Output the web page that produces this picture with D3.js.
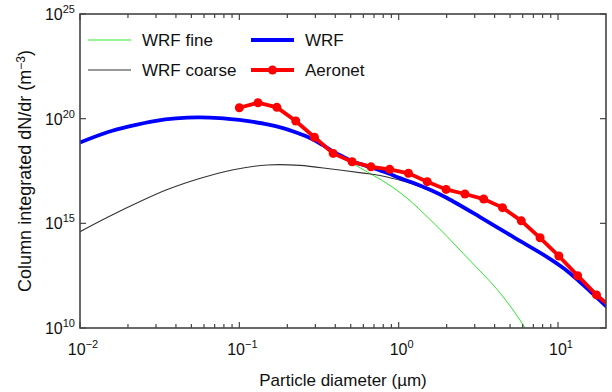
<!DOCTYPE html>
<html>
<head>
<meta charset="utf-8">
<script src="https://cdn.jsdelivr.net/npm/d3@7"></script>
<style>
  body { margin: 0; background: #fff; }
  svg text { font-family: "Liberation Sans", Arial, sans-serif; fill: #111; }
</style>
</head>
<body>
<svg id="graph" width="612" height="392"></svg>
<script>
// diametres (µm) et log10 des concentrations
const wrfD = [0.01, 0.015, 0.02, 0.03, 0.04, 0.055, 0.075, 0.1, 0.117, 0.15, 0.188, 0.23, 0.278, 0.33, 0.388, 0.45, 0.518, 0.6, 0.69, 0.85, 1.02, 1.23, 1.6, 2.01, 3.24, 5.23, 8.55, 11, 13.8, 17, 20.3];
const wrfLog = [18.86, 19.36, 19.62, 19.90, 20.01, 20.06, 20.03, 19.94, 19.87, 19.73, 19.55, 19.33, 19.08, 18.76, 18.42, 18.17, 17.94, 17.79, 17.64, 17.40, 17.16, 16.94, 16.58, 16.21, 15.30, 14.35, 13.39, 12.82, 12.18, 11.55, 11.0];

const fineD = [0.01, 0.015, 0.02, 0.03, 0.04, 0.055, 0.075, 0.1, 0.117, 0.15, 0.188, 0.23, 0.278, 0.321, 0.388, 0.45, 0.53, 0.634, 0.846, 1.129, 1.574, 2.013, 2.535, 3.243, 4.15, 5.225, 6.21, 7.18];
const fineLog = [18.85, 19.35, 19.61, 19.89, 20.00, 20.04, 20.01, 19.92, 19.84, 19.70, 19.52, 19.30, 19.04, 18.75, 18.40, 18.10, 17.80, 17.46, 16.90, 16.20, 15.18, 14.37, 13.57, 12.72, 11.84, 10.86, 10.0, 9.2];

const coarseD = [0.01, 0.015, 0.024, 0.035, 0.057, 0.09, 0.15, 0.24, 0.39, 0.6, 0.75, 0.88, 1.02, 1.23, 1.6, 2.01, 3.24, 5.23, 8.55, 11, 13.8, 17, 20.3];
const coarseLog = [14.60, 15.30, 16.05, 16.60, 17.15, 17.55, 17.79, 17.77, 17.58, 17.40, 17.30, 17.18, 17.06, 16.87, 16.53, 16.19, 15.29, 14.34, 13.38, 12.81, 12.17, 11.54, 10.99];

const aeronetD = [0.1, 0.131, 0.172, 0.226, 0.296, 0.388, 0.51, 0.67, 0.878, 1.152, 1.512, 1.984, 2.604, 3.416, 4.482, 5.88, 7.714, 10.12, 13.28, 17.43, 22.86];
const aeronetLog = [20.52, 20.76, 20.54, 19.89, 19.11, 18.34, 17.94, 17.70, 17.58, 17.39, 16.99, 16.62, 16.40, 16.16, 15.75, 15.12, 14.31, 13.44, 12.50, 11.58, 10.81];

const xTicks = [-2, -1, 0, 1];
const yTicks = [10, 15, 20, 25];
const legendNames = ["WRF fine", "WRF", "WRF coarse", "Aeronet"];

const margin = { left: 80, top: 14, right: 6, bottom: 64 };
const W = 612, H = 392;
const svg = d3.select("#graph");

const x = d3.scaleLog().domain([0.01, 20]).range([margin.left, W - margin.right]);
const y = d3.scaleLinear().domain([10, 25]).range([H - margin.bottom, margin.top]);

svg.append("clipPath").attr("id", "clip")
  .append("rect")
  .attr("x", x.range()[0]).attr("y", y.range()[1])
  .attr("width", x.range()[1] - x.range()[0])
  .attr("height", y.range()[0] - y.range()[1]);

const plot = svg.append("g").attr("clip-path", "url(#clip)");
const smooth = d3.line().x(d => x(d[0])).y(d => y(d[1])).curve(d3.curveCatmullRom.alpha(0.5));
const zip = (a, b) => a.map((v, i) => [v, b[i]]);

plot.append("path").datum(zip(fineD, fineLog))
  .attr("d", smooth).attr("fill", "none").attr("stroke", "#2ee82e").attr("stroke-width", 1);
plot.append("path").datum(zip(coarseD, coarseLog))
  .attr("d", smooth).attr("fill", "none").attr("stroke", "#333").attr("stroke-width", 1.1);
plot.append("path").datum(zip(wrfD, wrfLog))
  .attr("d", smooth).attr("fill", "none").attr("stroke", "#0000ff").attr("stroke-width", 3.8);
plot.append("path").datum(zip(aeronetD, aeronetLog))
  .attr("d", d3.line().x(d => x(d[0])).y(d => y(d[1])))
  .attr("fill", "none").attr("stroke", "#ff0000").attr("stroke-width", 3.8);
plot.selectAll("circle.aer").data(zip(aeronetD, aeronetLog)).enter()
  .append("circle").classed("aer", true)
  .attr("cx", d => x(d[0])).attr("cy", d => y(d[1])).attr("r", 4.5)
  .attr("fill", "#ff0000");

// Cadre et graduations (style MATLAB, graduations vers l'intérieur)
const axisColor = "#444";
const x0 = x.range()[0], x1 = x.range()[1], yb = y.range()[0], yt = y.range()[1];
svg.append("rect").attr("x", x0).attr("y", yt).attr("width", x1 - x0).attr("height", yb - yt)
  .attr("fill", "none").attr("stroke", axisColor).attr("stroke-width", 1.6);

const minor = [];
for (let e = -2; e <= 1; e++) {
  for (let m = 2; m <= 9; m++) {
    const v = m * Math.pow(10, e);
    if (v < 20) minor.push(v);
  }
}
const tk = svg.append("g").attr("stroke", axisColor).attr("stroke-width", 1.2);
minor.forEach(v => {
  tk.append("line").attr("x1", x(v)).attr("x2", x(v)).attr("y1", yb).attr("y2", yb - 4);
  tk.append("line").attr("x1", x(v)).attr("x2", x(v)).attr("y1", yt).attr("y2", yt + 4);
});
xTicks.forEach(e => {
  const v = Math.pow(10, e);
  tk.append("line").attr("x1", x(v)).attr("x2", x(v)).attr("y1", yb).attr("y2", yb - 6);
  tk.append("line").attr("x1", x(v)).attr("x2", x(v)).attr("y1", yt).attr("y2", yt + 6);
});
yTicks.forEach(e => {
  tk.append("line").attr("x1", x0).attr("x2", x0 + 6).attr("y1", y(e)).attr("y2", y(e));
  tk.append("line").attr("x1", x1).attr("x2", x1 - 6).attr("y1", y(e)).attr("y2", y(e));
});

// Étiquettes des graduations
function powLabel(g, exp) {
  g.append("tspan").text("10");
  g.append("tspan").attr("dy", -7).attr("font-size", 11).text(exp < 0 ? "\u2212" + (-exp) : exp);
}
xTicks.forEach(e => {
  const t = svg.append("text").attr("x", x(Math.pow(10, e)) + 3).attr("y", yb + 27)
    .attr("text-anchor", "middle").attr("font-size", 16);
  powLabel(t, e);
});
yTicks.forEach(e => {
  const t = svg.append("text").attr("x", x0 - 5).attr("y", y(e) + 6)
    .attr("text-anchor", "end").attr("font-size", 16);
  powLabel(t, e);
});

// Titres des axes
svg.append("text").attr("x", (x0 + x1) / 2).attr("y", 386).attr("text-anchor", "middle")
  .attr("font-size", 17).text("Particle diameter (\u00b5m)");
const yl = svg.append("text").attr("transform", `translate(31,${(yb + yt) / 2}) rotate(-90)`)
  .attr("text-anchor", "middle").attr("font-size", 18);
yl.append("tspan").text("Column integrated dN/dr (m");
yl.append("tspan").attr("dy", -6).attr("font-size", 12).text("\u22123");
yl.append("tspan").attr("dy", 6).text(")");

// Légende
const legend = [
  { name: legendNames[0], color: "#2ee82e", w: 1, col: 0, row: 0 },
  { name: legendNames[1], color: "#0000ff", w: 3.8, col: 1, row: 0 },
  { name: legendNames[2], color: "#333", w: 1.1, col: 0, row: 1 },
  { name: legendNames[3], color: "#ff0000", w: 3.8, col: 1, row: 1, marker: true }
];
legend.forEach(l => {
  const lx = l.col ? 251 : 88, ly = 40 + l.row * 30;
  svg.append("line").attr("x1", lx).attr("x2", lx + 43).attr("y1", ly).attr("y2", ly)
    .attr("stroke", l.color).attr("stroke-width", l.w);
  if (l.marker) svg.append("circle").attr("cx", lx + 21.5).attr("cy", ly).attr("r", 4.5).attr("fill", l.color);
  svg.append("text").attr("x", lx + 54).attr("y", ly + 6).attr("font-size", 17).text(l.name);
});
</script>
</body>
</html>
